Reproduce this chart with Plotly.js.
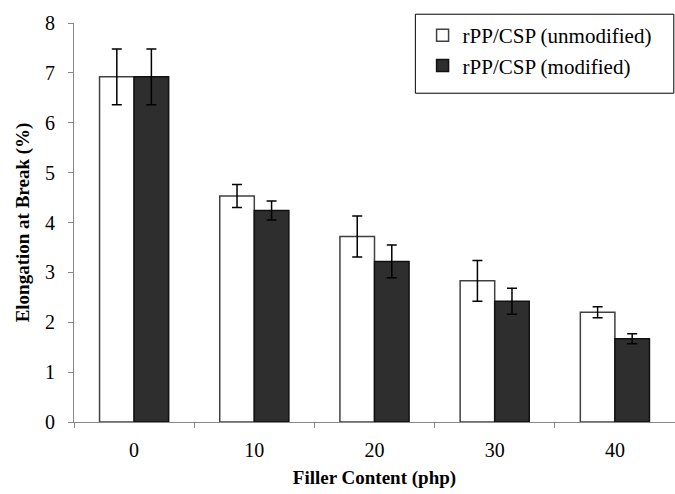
<!DOCTYPE html>
<html>
<head>
<meta charset="utf-8">
<script src="https://cdn.plot.ly/plotly-3.0.1.min.js"></script>
<style>html,body{margin:0;padding:0;background:#fff}#chart{width:675px;height:494px}</style>
</head>
<body>
<div id="chart"></div>
<script>
const categories = ["0", "10", "20", "30", "40"];
const unmodified = [6.92, 4.53, 3.72, 2.83, 2.20];
const unmodifiedErr = [0.56, 0.23, 0.41, 0.41, 0.11];
const modified = [6.92, 4.24, 3.22, 2.42, 1.67];
const modifiedErr = [0.56, 0.19, 0.33, 0.26, 0.10];
const seriesNames = ["rPP/CSP (unmodified)", "rPP/CSP (modified)"];

const font = "'Liberation Serif', 'Times New Roman', Times, serif";
const errStyle = {type: "data", visible: true, color: "#000", thickness: 1.5, width: 5};

const traces = [
  {type: "bar", name: seriesNames[0], x: categories, y: unmodified,
   error_y: Object.assign({array: unmodifiedErr}, errStyle),
   marker: {color: "#ffffff", line: {color: "#404040", width: 1.5}}},
  {type: "bar", name: seriesNames[1], x: categories, y: modified,
   error_y: Object.assign({array: modifiedErr}, errStyle),
   marker: {color: "#2e2e2e", line: {color: "#111111", width: 1.5}}}
];

const layout = {
  width: 675, height: 494,
  margin: {l: 74, r: 0, t: 23, b: 72},
  paper_bgcolor: "#fff", plot_bgcolor: "#fff",
  font: {family: font, size: 20, color: "#000"},
  barmode: "group", bargap: 0.425, bargroupgap: 0,
  showlegend: true,
  legend: {x: 0.58, y: 1.02, xanchor: "left", yanchor: "top",
    bgcolor: "rgba(0,0,0,0)", borderwidth: 0,
    font: {family: font, size: 21, color: "#000"}, tracegroupgap: 6,
    itemwidth: 30, entrywidth: 230},
  xaxis: {type: "category", showline: true, linecolor: "#888", linewidth: 1,
    ticks: "outside", tickson: "boundaries", ticklen: 5, tickcolor: "#888",
    ticklabelstandoff: 10,
    showgrid: false, zeroline: false, tickfont: {family: font, size: 20},
    title: {text: "<b>Filler Content (php)</b>", font: {family: font, size: 19}, standoff: 10}},
  yaxis: {range: [0, 8], dtick: 1, showline: true, linecolor: "#888", linewidth: 1,
    ticks: "outside", ticklen: 5, tickcolor: "#888", showgrid: false, zeroline: false,
    ticklabelstandoff: 9,
    tickfont: {family: font, size: 20},
    title: {text: "<b>Elongation at Break (%)</b>", font: {family: font, size: 19}, standoff: 10}},
  shapes: [{type: "rect", xref: "paper", yref: "paper", x0: 0.568, x1: 0.998, y0: 0.824, y1: 1.022,
    line: {color: "#000", width: 1}, fillcolor: "rgba(0,0,0,0)"}]
};

Plotly.newPlot("chart", traces, layout, {displayModeBar: false, staticPlot: true});
</script>
</body>
</html>
